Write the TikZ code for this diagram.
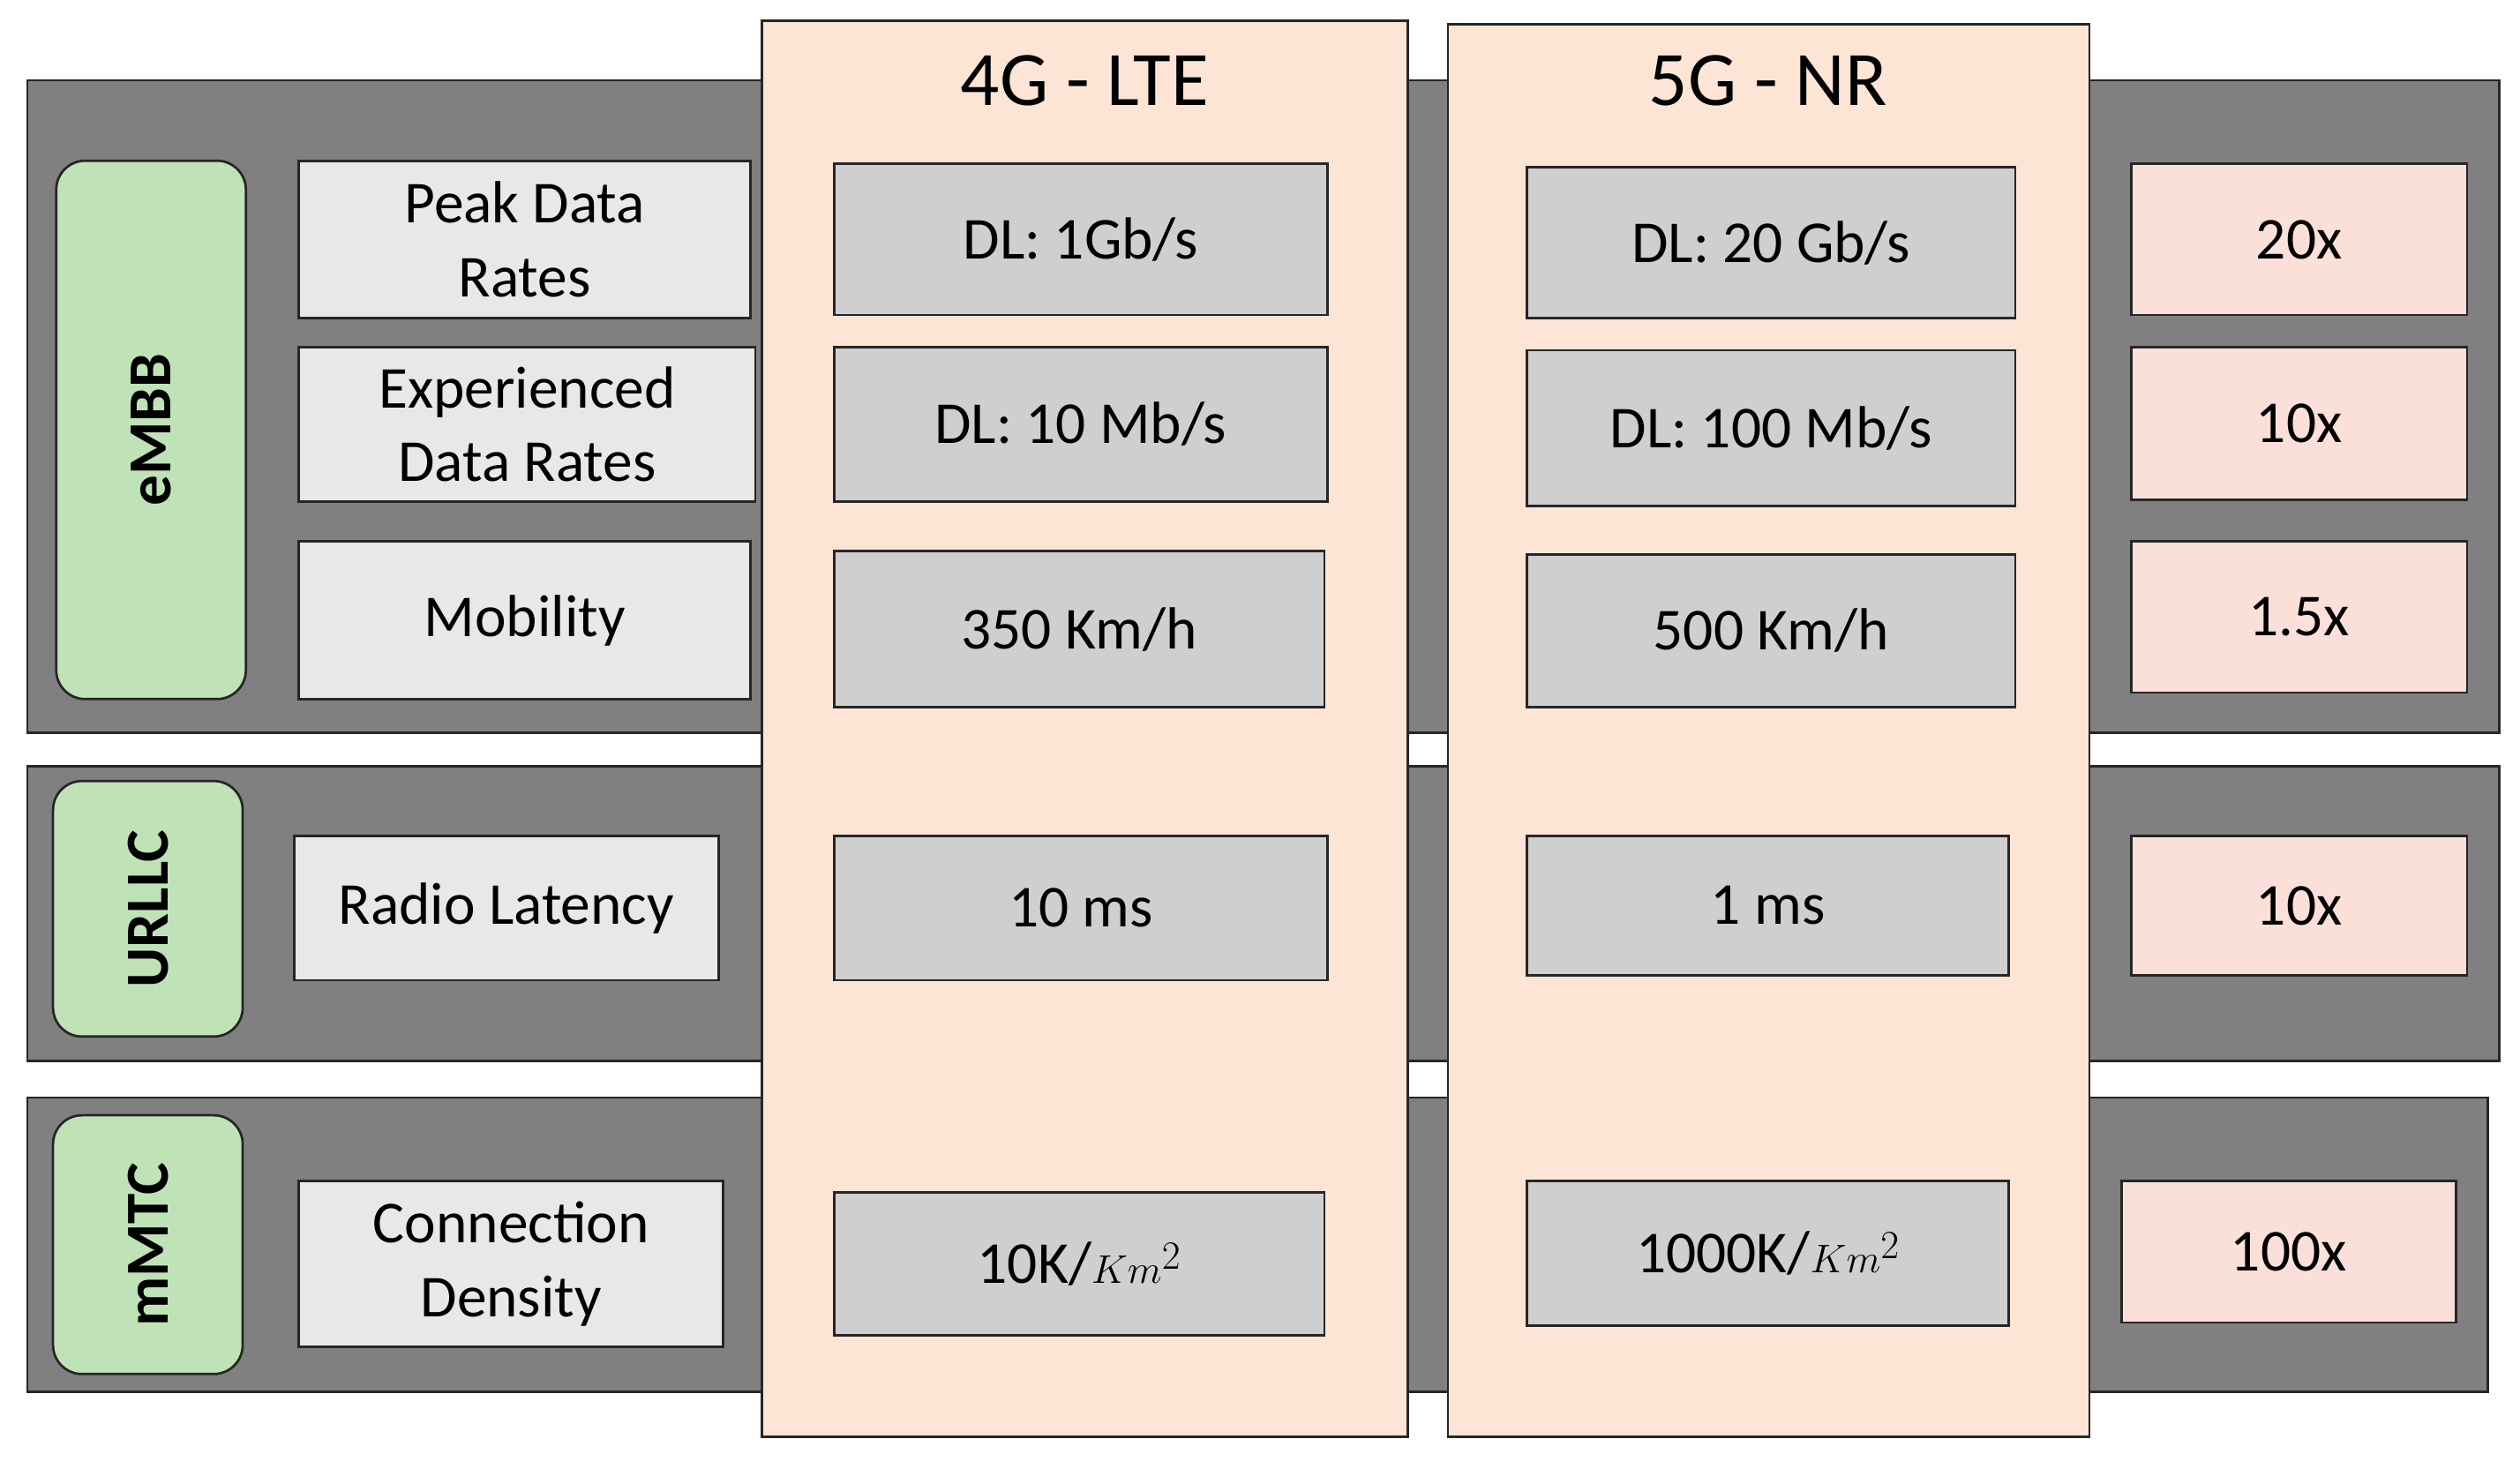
\documentclass[tikz,border=0pt]{standalone}
\usepackage{fontspec}
\setmainfont{Carlito}
\definecolor{grnc}{HTML}{BFE3B6}
\definecolor{peach}{HTML}{FDE5D6}
\definecolor{ratc}{HTML}{FBE0DA}
\begin{document}
\begin{tikzpicture}[x=1pt,y=-1pt,
  band/.style={draw=black!85,line width=1.5pt,fill=black!50},
  col/.style={draw=black!85,line width=1.5pt,fill=peach},
  grn/.style={draw=black!85,line width=1.5pt,fill=grnc,rounded corners=18pt},
  lab/.style={draw=black!85,line width=1.5pt,fill=black!9},
  val/.style={draw=black!85,line width=1.5pt,fill=black!19},
  rat/.style={draw=black!85,line width=1.5pt,fill=ratc},
  tx/.style={font=\fontsize{37}{46}\selectfont,align=center},
  gt/.style={rotate=90,font=\fontsize{38}{44}\selectfont\bfseries}]
\useasboundingbox (0,0) rectangle (1568,914);
\fill[white] (0,0) rectangle (1568,914);
\draw[band] (17,50) rectangle (1555,456);
\draw[band] (17,477) rectangle (1555,660);
\draw[band] (17,683) rectangle (1548,866);
\draw[col] (474,13) rectangle (876,894);
\draw[col] (901,15) rectangle (1300,894);
\node[font=\fontsize{48}{54}\selectfont] (t4) at (675,50) {4G - LTE};
\node[font=\fontsize{48}{54}\selectfont] (t5) at (1100,50) {5G - NR};
\draw[grn] (35,100) rectangle node[gt] (g1) {eMBB} (153,435);
\draw[grn] (33,486) rectangle node[gt] (g2) {URLLC} (151,645);
\draw[grn] (33,694) rectangle node[gt] (g3) {mMTC} (151,855);
\draw[lab] (186,100) rectangle node[tx] (l1) {Peak Data\\Rates} (467,198);
\draw[lab] (186,216) rectangle node[tx] (l2) {Experienced\\Data Rates} (470,312);
\draw[lab] (186,337) rectangle node[tx] (l3) {Mobility} (467,435);
\draw[lab] (183,520) rectangle node[tx] (l4) {Radio Latency} (447,610);
\draw[lab] (186,735) rectangle node[tx] (l5) {Connection\\Density} (450,838);
\draw[val] (519,102) rectangle node[tx] (a1) {DL: 1Gb/s} (826,196);
\draw[val] (519,216) rectangle node[tx] (a2) {DL: 10 Mb/s} (826,312);
\draw[val] (519,343) rectangle node[tx] (a3) {350 Km/h} (824,440);
\draw[val] (519,520) rectangle node[tx] (a4) {10 ms} (826,610);
\draw[val] (519,742) rectangle node[tx] (a5) {10K/$Km^2$} (824,831);
\draw[val] (950,104) rectangle node[tx] (b1) {DL: 20 Gb/s} (1254,198);
\draw[val] (950,218) rectangle node[tx] (b2) {DL: 100 Mb/s} (1254,315);
\draw[val] (950,345) rectangle node[tx] (b3) {500 Km/h} (1254,440);
\draw[val] (950,520) rectangle node[tx] (b4) {1 ms} (1250,607);
\draw[val] (950,735) rectangle node[tx] (b5) {1000K/$Km^2$} (1250,825);
\draw[rat] (1326,102) rectangle node[tx] (r1) {20x} (1535,196);
\draw[rat] (1326,216) rectangle node[tx] (r2) {10x} (1535,311);
\draw[rat] (1326,337) rectangle node[tx] (r3) {1.5x} (1535,431);
\draw[rat] (1326,520) rectangle node[tx] (r4) {10x} (1535,607);
\draw[rat] (1320,735) rectangle node[tx] (r5) {100x} (1528,823);
\end{tikzpicture}
\end{document}
